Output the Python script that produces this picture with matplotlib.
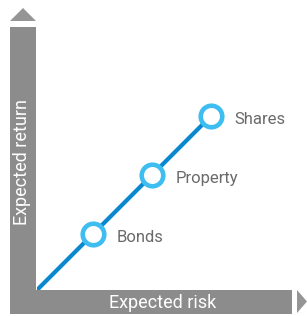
import matplotlib
matplotlib.use("Agg")
import matplotlib.pyplot as plt
from matplotlib.patches import Rectangle, Polygon

# Data
assets = ["Bonds", "Property", "Shares"]
risk = [3.2, 6.6, 10.0]
ret = [3.2, 6.6, 10.0]
x_label = "Expected risk"
y_label = "Expected return"

W, H = 307, 316
fig = plt.figure(figsize=(W / 100, H / 100), dpi=100)
plt.rcParams['font.family'] = ['Roboto', 'DejaVu Sans']

def fx(px):
    return px / W

def fy(py):
    return 1 - py / H

GRAY = "#8c8c8c"
# decorative axis bars
fig.patches.append(Rectangle((fx(10), fy(314)), fx(36) - fx(10), fy(27) - fy(314),
                             transform=fig.transFigure, color=GRAY, lw=0, zorder=0))
fig.patches.append(Rectangle((fx(10), fy(314)), fx(292) - fx(10), fy(290) - fy(314),
                             transform=fig.transFigure, color=GRAY, lw=0, zorder=0))
fig.patches.append(Polygon([(fx(10), fy(21)), (fx(36), fy(21)), (fx(23), fy(8))],
                           closed=True, transform=fig.transFigure, color="#959595", lw=0))
fig.patches.append(Polygon([(fx(297), fy(290)), (fx(297), fy(313)), (fx(307), fy(301.5))],
                           closed=True, transform=fig.transFigure, color="#959595", lw=0))

fig.text(fx(22.5), fy(162), y_label, rotation=90, color="white", fontsize=13,
         ha="center", va="center")
fig.text(fx(162.5), fy(302.5), x_label, color="white", fontsize=13,
         ha="center", va="center")

# data axes: origin at pixel (37, 290)
scale = 17.4
ax = fig.add_axes([fx(37), fy(290), fx(297) - fx(37), fy(20) - fy(290)])
ax.set_xlim(0, (297 - 37) / scale)
ax.set_ylim(0, (290 - 20) / scale)
ax.axis("off")

ax.plot([0] + risk, [0] + ret, color="#0a88cf", lw=3, solid_capstyle="butt", zorder=2)
ax.plot(risk, ret, "o", ms=15.5, mfc="white", mec="#3dbdf0", mew=3.3, zorder=3)
for a, x, y in zip(assets, risk, ret):
    ax.annotate(a, (x, y), xytext=(17, -2.5), textcoords="offset points",
                color="#6a6a6a", fontsize=12, ha="left", va="center")

fig.savefig("out.png", dpi=100)
